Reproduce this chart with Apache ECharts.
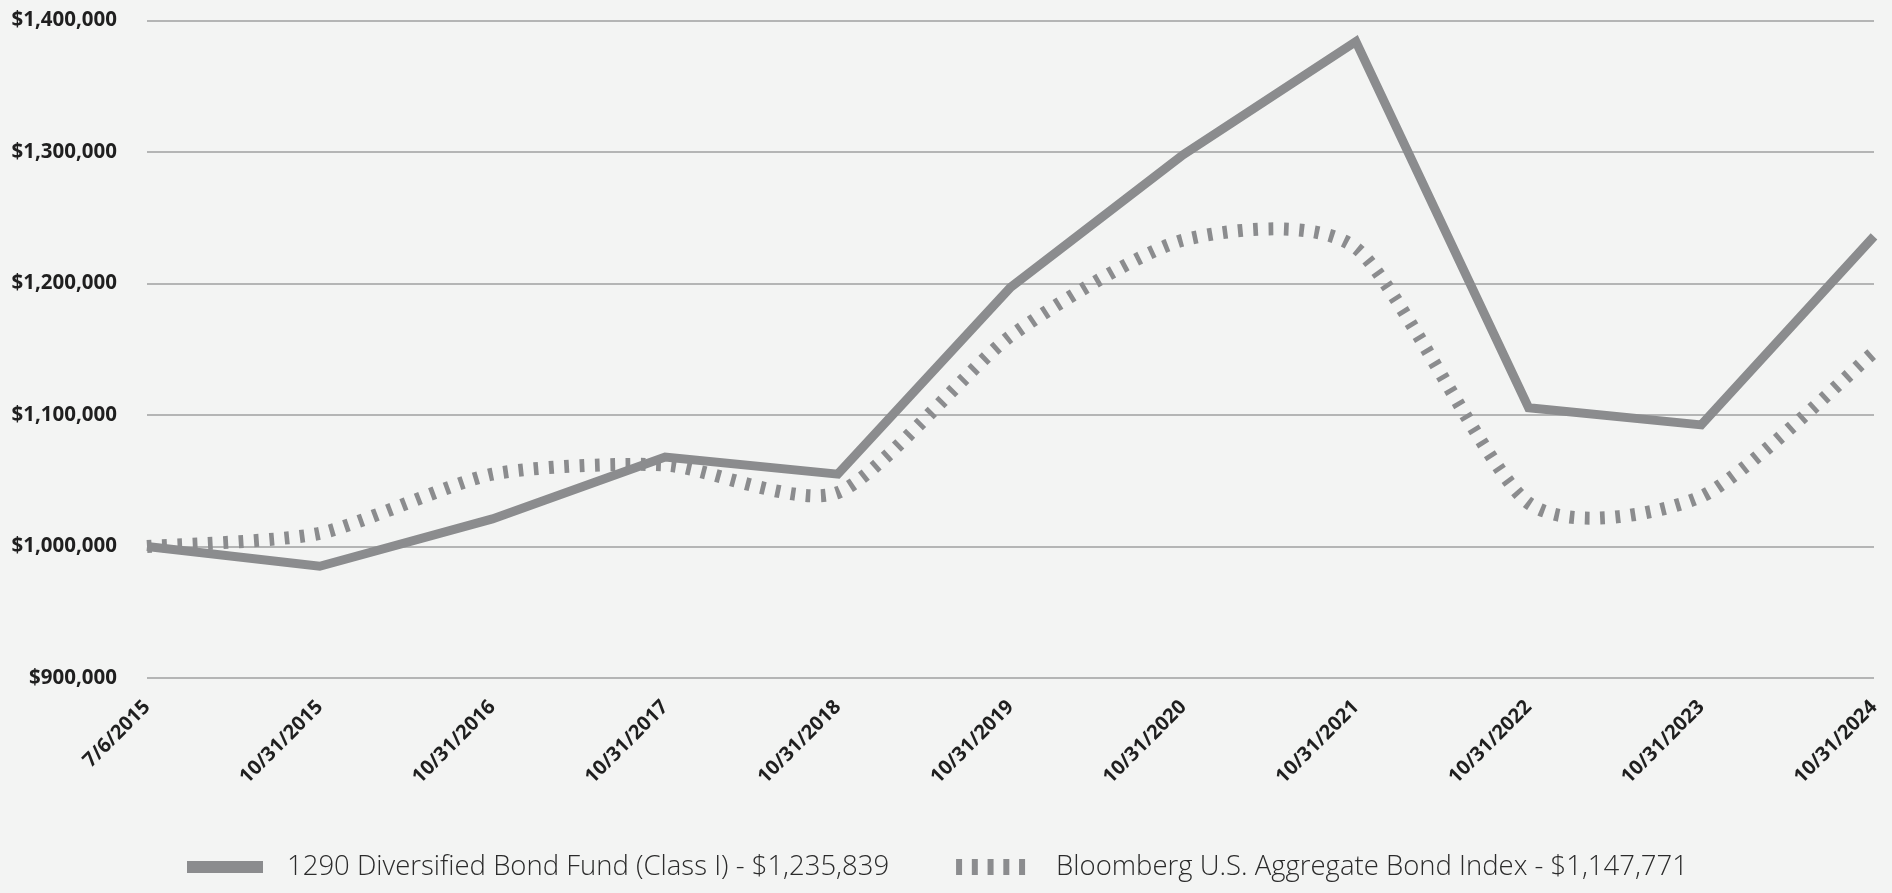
<!DOCTYPE html>
<html>
<head>
<meta charset="utf-8">
<script src="https://cdn.jsdelivr.net/npm/echarts@6/dist/echarts.min.js"></script>
<style>
html,body{margin:0;padding:0;background:#f3f4f3;}
#chart{width:1892px;height:893px;}
</style>
</head>
<body>
<div id="chart"></div>
<script>
const categories = ['7/6/2015','10/31/2015','10/31/2016','10/31/2017','10/31/2018','10/31/2019','10/31/2020','10/31/2021','10/31/2022','10/31/2023','10/31/2024'];
const fundName = '1290 Diversified Bond Fund (Class I) - $1,235,839';
const indexName = 'Bloomberg U.S. Aggregate Bond Index - $1,147,771';
const fundValues = [1000000, 985000, 1021000, 1068000, 1055000, 1197000, 1298000, 1384000, 1105500, 1092500, 1235839];
const indexValues = [1000000, 1010000, 1055000, 1062000, 1041000, 1160000, 1233000, 1227000, 1033000, 1038000, 1147771];
const yTicks = { min: 900000, max: 1400000, interval: 100000 };

const lineColor = '#8b8c8e';
const SMOOTH = 0.115;

function smoothPath(pts) {
  let d = 'M' + pts[0][0] + ',' + pts[0][1];
  for (let i = 0; i < pts.length - 1; i++) {
    const p0 = pts[i], p1 = pts[i + 1];
    const pm = pts[i - 1] || p0, pp = pts[i + 2] || p1;
    const c1x = p0[0] + SMOOTH * (p1[0] - pm[0]);
    const c1y = p0[1] + SMOOTH * (p1[1] - pm[1]);
    const c2x = p1[0] - SMOOTH * (pp[0] - p0[0]);
    const c2y = p1[1] - SMOOTH * (pp[1] - p0[1]);
    d += 'C' + c1x + ',' + c1y + ',' + c2x + ',' + c2y + ',' + p1[0] + ',' + p1[1];
  }
  return d;
}

const solidIcon = 'path://M0,0L0,0M0,2h76v12h-76zM76,16L76,16';
const dashIcon = 'path://M0,0h6v16h-6zM15.75,0h6v16h-6zM31.5,0h6v16h-6zM47.25,0h6v16h-6zM63,0h6v16h-6zM76,16L76,16';

const chart = echarts.init(document.getElementById('chart'), null, { renderer: 'canvas' });
chart.setOption({
  backgroundColor: '#f3f4f3',
  animation: false,
  grid: { left: 147, right: 18, top: 20.5, bottom: 215, containLabel: false },
  xAxis: {
    type: 'category',
    data: categories,
    boundaryGap: false,
    axisLine: { show: false },
    axisTick: { show: false },
    axisLabel: {
      rotate: 45,
      margin: 26,
      interval: 0,
      color: '#1f1f1f',
      fontFamily: 'Open Sans',
      fontWeight: 'bold',
      fontSize: 20
    }
  },
  yAxis: {
    type: 'value',
    min: yTicks.min,
    max: yTicks.max,
    interval: yTicks.interval,
    axisLine: { show: false },
    axisTick: { show: false },
    splitLine: { lineStyle: { color: '#b4b5b5', width: 2 } },
    axisLabel: {
      margin: 30,
      color: '#1f1f1f',
      fontFamily: 'Open Sans',
      fontWeight: 'bold',
      fontSize: 20.5,
      formatter: v => '$' + v.toLocaleString('en-US')
    }
  },
  legend: {
    top: 848,
    left: 182,
    itemWidth: 76,
    itemHeight: 16,
    itemGap: 67,
    textStyle: {
      fontFamily: 'Open Sans',
      fontWeight: 300,
      fontSize: 27.5,
      color: '#2b2b2b',
      padding: [0, 0, 0, 19]
    },
    data: [
      { name: fundName, icon: solidIcon },
      { name: indexName, icon: dashIcon }
    ]
  },
  series: [
    {
      name: indexName,
      type: 'custom',
      coordinateSystem: 'cartesian2d',
      color: lineColor,
      itemStyle: { color: lineColor },
      data: indexValues.map((v, i) => [i, v]),
      encode: { x: 0, y: 1 },
      renderItem: function (params, api) {
        if (params.dataIndex !== 0) return null;
        const pts = indexValues.map((v, i) => api.coord([i, v]));
        return {
          type: 'path',
          shape: { pathData: smoothPath(pts) },
          style: { fill: 'none', stroke: lineColor, lineWidth: 13, lineDash: [4.7, 10.6], lineCap: 'butt' }
        };
      }
    },
    {
      name: fundName,
      type: 'line',
      data: fundValues,
      symbol: 'none',
      color: lineColor,
      lineStyle: { color: lineColor, width: 9, cap: 'butt', join: 'miter' }
    }
  ]
});
</script>
</body>
</html>
